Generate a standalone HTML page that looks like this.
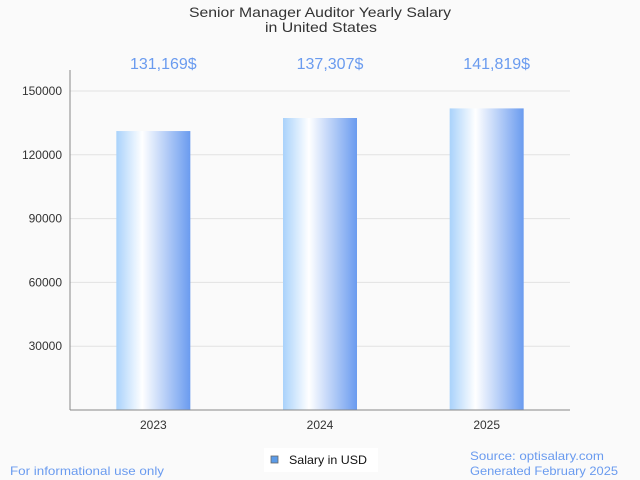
<!DOCTYPE html>
<html><head><meta charset="utf-8"><style>
body{margin:0;background:#fafafa;font-family:"Liberation Sans",sans-serif}
svg{display:block}
</style></head><body>
<svg width="640" height="480">
<defs><linearGradient id="g" x1="0" x2="1" y1="0" y2="0">
<stop offset="0" stop-color="#a9d2fb"/><stop offset="0.35" stop-color="#ffffff"/><stop offset="1" stop-color="#6a9bef"/></linearGradient></defs>
<rect width="640" height="480" fill="#fafafa"/>
<text x="189" y="17" textLength="262" lengthAdjust="spacingAndGlyphs" font-size="14" fill="#333">Senior Manager Auditor Yearly Salary</text>
<text x="265" y="32" textLength="112" lengthAdjust="spacingAndGlyphs" font-size="14" fill="#333">in United States</text>
<g id="grid"></g><g id="bars"></g>
<line x1="70" y1="70" x2="70" y2="410" stroke="#888"/>
<line x1="70" y1="410" x2="570" y2="410" stroke="#888"/>
<g>
<rect x="264" y="448" width="114" height="24" fill="#fff"/>
<rect x="271" y="456" width="7" height="7" fill="#5b9be8" stroke="#666" stroke-width="0.8"/>
<text x="289" y="464" textLength="78" lengthAdjust="spacingAndGlyphs" font-size="12" fill="#111">Salary in USD</text></g>
<text x="10" y="475" textLength="154" lengthAdjust="spacingAndGlyphs" font-size="12" fill="#6a9bef">For informational use only</text>
<text x="470" y="460" textLength="134" lengthAdjust="spacingAndGlyphs" font-size="12" fill="#6a9bef">Source: optisalary.com</text>
<text x="470" y="475" textLength="148" lengthAdjust="spacingAndGlyphs" font-size="12" fill="#6a9bef">Generated February 2025</text>
</svg>
<script>
const categories=["2023","2024","2025"];
const values=[131169,137307,141819];
const valueLabels=["131,169$","137,307$","141,819$"];
const yTicks=[30000,60000,90000,120000,150000];
const NS="http://www.w3.org/2000/svg";
const y=v=>410-v*319/150000;
const xc=i=>70+(i+0.5)*500/categories.length;
function mk(t,a,p){const e=document.createElementNS(NS,t);for(const k in a)e.setAttribute(k,a[k]);p.appendChild(e);return e;}
const grid=document.getElementById('grid'),bars=document.getElementById('bars');
yTicks.forEach(v=>{
const l=mk('line',{x1:70,x2:570,y1:y(v),y2:y(v),stroke:'#e2e2e2'},grid);


const t=mk('text',{x:62,y:y(v)+4,'text-anchor':'end','font-size':12,fill:'#333'},grid);
t.textContent=v;


});
categories.forEach((c,i)=>{
const r=mk('rect',{x:xc(i)-37,y:y(values[i]),width:74,height:410-y(values[i]),fill:'url(#g)'},bars);


const t=mk('text',{x:xc(i),y:429,'text-anchor':'middle','font-size':12,fill:'#333'},bars);
t.textContent=c;


const v=mk('text',{x:xc(i)+10,y:69,'text-anchor':'middle','font-size':16,fill:'#6a9bef'},bars);
v.textContent=valueLabels[i];


});
</script>
</body></html>
